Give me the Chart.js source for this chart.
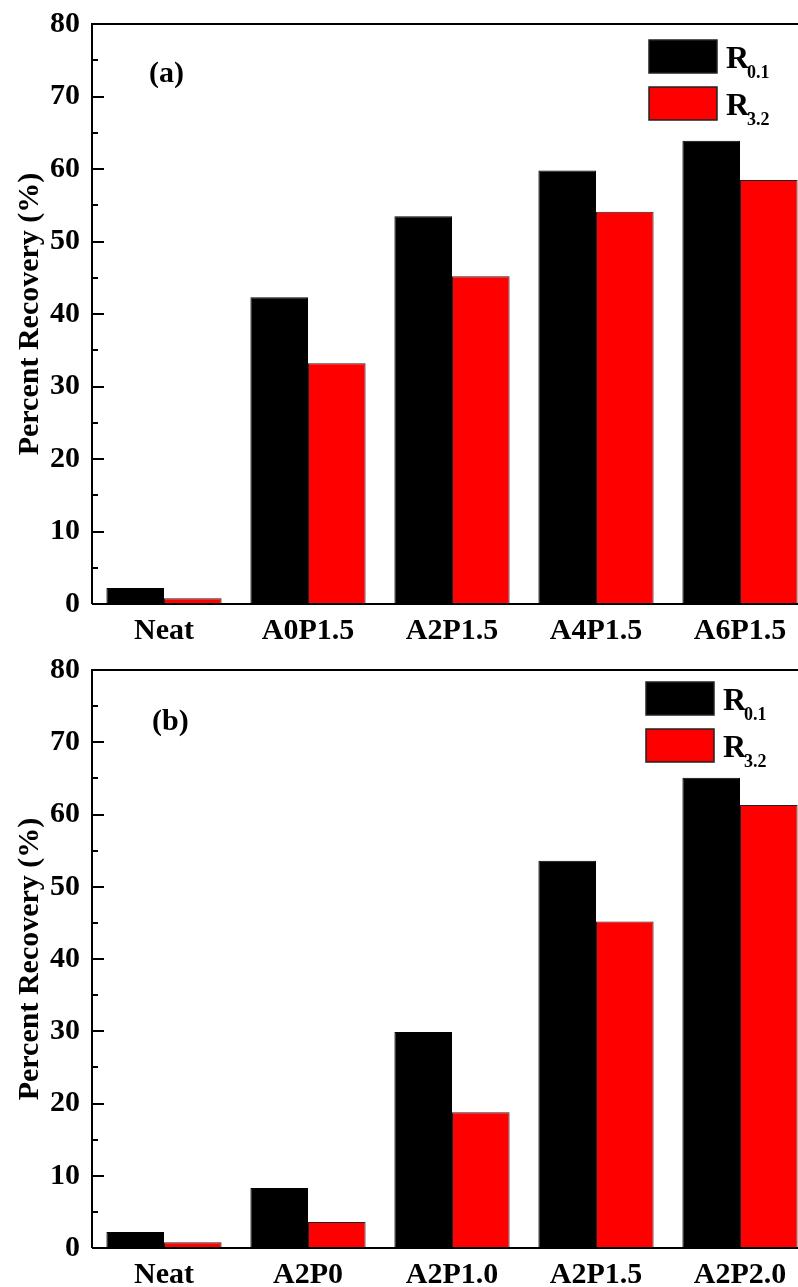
<!DOCTYPE html>
<html>
<head>
<meta charset="utf-8">
<script src="https://cdn.jsdelivr.net/npm/chart.js@4.4.1/dist/chart.umd.min.js"></script>
<style>
  html, body { margin: 0; padding: 0; background: #ffffff; overflow: hidden; }
  .wrap { width: 798px; height: 1287px; overflow: hidden; }
  canvas { display: block; }
</style>
</head>
<body>
<div class="wrap">
  <canvas id="chartA" width="830" height="645"></canvas>
  <canvas id="chartB" width="830" height="642"></canvas>
</div>
<script>
const fonte = '"Liberation Serif", "Times New Roman", serif';

// panel (a)
const labelsA = ["Neat", "A0P1.5", "A2P1.5", "A4P1.5", "A6P1.5"];
const r01A = [2.2, 42.3, 53.5, 59.8, 63.9];
const r32A = [0.8, 33.2, 45.2, 54.1, 58.5];

// panel (b)
const labelsB = ["Neat", "A2P0", "A2P1.0", "A2P1.5", "A2P2.0"];
const r01B = [2.2, 8.3, 29.9, 53.6, 65.1];
const r32B = [0.8, 3.6, 18.8, 45.2, 61.3];

// legend text: R with subscript
const seriesNames = ["R0.1", "R3.2"];
const seriesMain = ["R", "R"];
const seriesSub = ["0.1", "3.2"];
const seriesColors = ["#000000", "#ff0000"];

const yMin = 0;
const yMax = 80;
const yStep = 10;
const yMinorStep = 5;

// frame, inward ticks, panel letter and legend
const decor = {
  id: "decor",
  afterDraw(chart, args, opts) {
    const ctx = chart.ctx;
    const a = chart.chartArea;
    const y = chart.scales.y;
    ctx.save();
    ctx.strokeStyle = "#000";
    ctx.lineWidth = 2;
    ctx.beginPath();
    ctx.moveTo(a.left, a.bottom);
    ctx.lineTo(a.left, a.top);
    ctx.lineTo(a.right, a.top);
    ctx.lineTo(a.right, a.bottom);
    ctx.lineTo(a.left, a.bottom);
    ctx.stroke();

    ctx.beginPath();
    for (let v = yMin; v <= yMax; v += yMinorStep) {
      const py = Math.round(y.getPixelForValue(v));
      const len = v % yStep === 0 ? 12 : 6;
      ctx.moveTo(a.left, py);
      ctx.lineTo(a.left + len, py);
      ctx.moveTo(a.right, py);
      ctx.lineTo(a.right - len, py);
    }
    ctx.stroke();

    ctx.fillStyle = "#000";
    ctx.font = "bold 30px " + fonte;
    ctx.textAlign = "left";
    ctx.textBaseline = "alphabetic";
    ctx.fillText(opts.letter, a.left + opts.letterX, a.top + opts.letterY);

    chart.data.datasets.forEach((ds, i) => {
      const bx = a.left + opts.legendX;
      const by = a.top + opts.legendY + i * 47;
      ctx.fillStyle = ds.backgroundColor;
      ctx.fillRect(bx, by, 68, 33);
      ctx.lineWidth = 1.5;
      ctx.strokeStyle = "#222";
      ctx.strokeRect(bx, by, 68, 33);
      ctx.fillStyle = "#000";
      ctx.font = "bold 32px " + fonte;
      ctx.fillText(seriesMain[i], bx + 77, by + 28);
      const w = ctx.measureText(seriesMain[i]).width;
      ctx.font = "bold 18px " + fonte;
      ctx.fillText(seriesSub[i], bx + 77 + w - 2, by + 38);
    });
    ctx.restore();
  },
};

function makeChart(id, labels, d1, d2, pad, xHeight, decorOpts) {
  return new Chart(document.getElementById(id), {
    type: "bar",
    data: {
      labels: labels,
      datasets: [
        {
          label: seriesNames[0],
          data: d1,
          backgroundColor: seriesColors[0],
          borderColor: "#000",
          borderWidth: 1,
        },
        {
          label: seriesNames[1],
          data: d2,
          backgroundColor: seriesColors[1],
          borderColor: "#222",
          borderWidth: 1,
        },
      ],
    },
    options: {
      responsive: false,
      animation: false,
      layout: {
        padding: { top: pad, right: 18, left: 0, bottom: 0 },
      },
      datasets: {
        bar: {
          categoryPercentage: 0.8,
          barPercentage: 1.0,
        },
      },
      plugins: {
        legend: { display: false },
        tooltip: { enabled: false },
        decor: decorOpts,
      },
      scales: {
        x: {
          grid: { display: false, drawTicks: false },
          border: { display: false },
          ticks: {
            color: "#000",
            padding: 9,
            maxRotation: 0,
            font: { family: fonte, size: 30, weight: "bold" },
          },
          afterFit(scale) {
            scale.height = xHeight;
          },
        },
        y: {
          min: yMin,
          max: yMax,
          grid: { display: false, drawTicks: false },
          border: { display: false },
          title: {
            display: true,
            text: "Percent Recovery (%)",
            color: "#000",
            padding: { top: 12, bottom: 0 },
            font: { family: fonte, size: 30, weight: "bold" },
          },
          ticks: {
            stepSize: yStep,
            color: "#000",
            padding: 12,
            font: { family: fonte, size: 30, weight: "bold", lineHeight: 0.8 },
          },
          afterFit(scale) {
            scale.width = 92;
          },
        },
      },
    },
    plugins: [decor],
  });
}

const chartA = makeChart("chartA", labelsA, r01A, r32A, 24, 41, {
  letter: "(a)", letterX: 57, letterY: 58, legendX: 557, legendY: 16,
});
const chartB = makeChart("chartB", labelsB, r01B, r32B, 25, 39, {
  letter: "(b)", letterX: 60, letterY: 60, legendX: 554, legendY: 12,
});
</script>
</body>
</html>
